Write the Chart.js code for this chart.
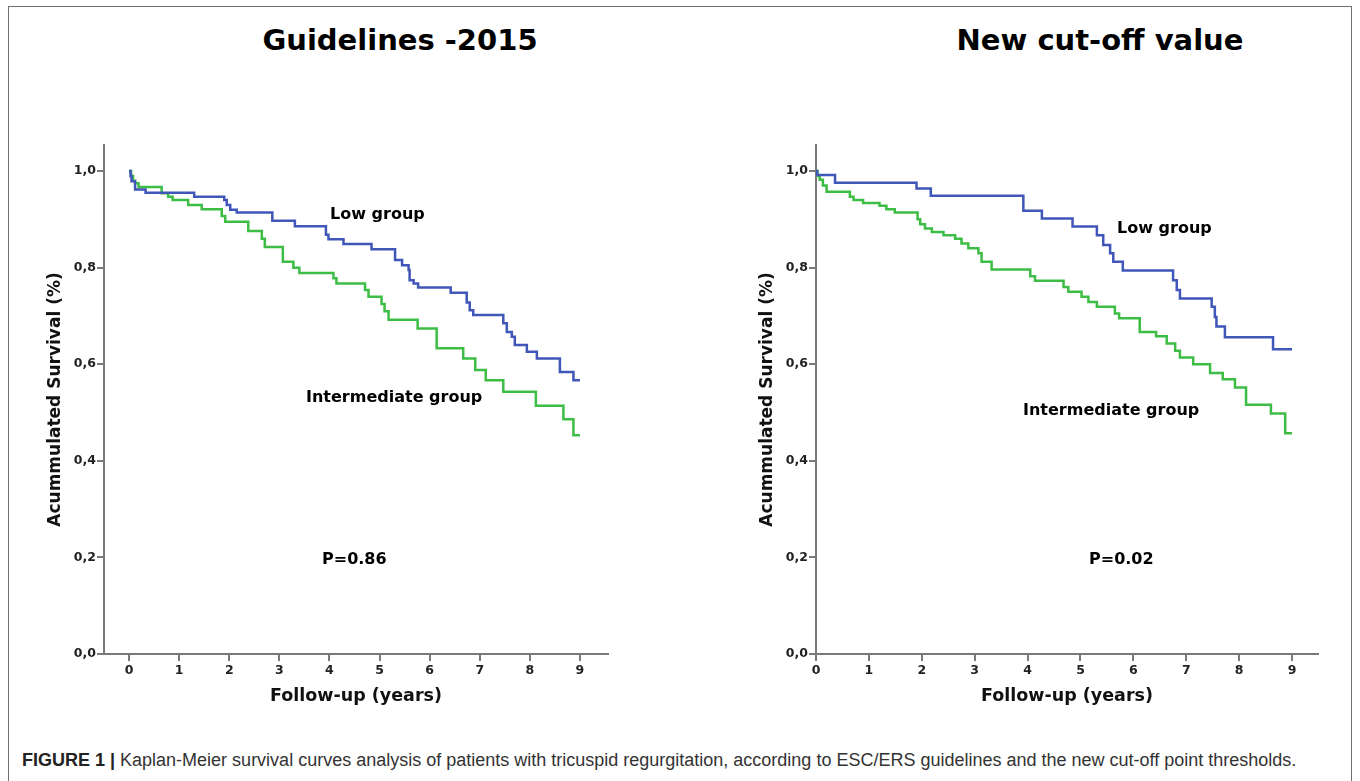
<!DOCTYPE html>
<html>
<head>
<meta charset="utf-8">
<script src="https://cdn.jsdelivr.net/npm/chart.js@4/dist/chart.umd.min.js"></script>
<style>
    body { margin: 0; background: #fff; width: 1360px; height: 781px; overflow: hidden; position: relative; }
    #frame { position: absolute; left: 8px; top: 6px; width: 1344px; height: 800px; border: 1.5px solid #6e6e6e; box-sizing: border-box; }
    canvas { position: absolute; }
    .title { position: absolute; top: 20px; width: 500px; margin-left: -250px; text-align: center; font: bold 29px "DejaVu Sans"; color: #000; line-height: 40px; }
    .lbl { position: absolute; font: bold 16px "DejaVu Sans"; color: #000; line-height: 20px; white-space: nowrap; }
    #caption { position: absolute; left: 22px; top: 749px; font: 18px "Liberation Sans"; color: #333; line-height: 22px; white-space: nowrap; }
    #caption b { color: #222; }
</style>
</head>
<body>
<div id="frame"></div>
<div class="title" style="left:400px">Guidelines -2015</div>
<div class="title" style="left:1100px">New cut-off value</div>

<canvas id="left-chart" width="620" height="710" style="left:20px;top:10px;width:620px;height:710px"></canvas>
<canvas id="right-chart" width="620" height="710" style="left:732px;top:10px;width:620px;height:710px"></canvas>

<div class="lbl" style="left:330px;top:204px">Low group</div>
<div class="lbl" style="left:306px;top:387px">Intermediate group</div>
<div class="lbl" style="left:322px;top:549px">P=0.86</div>
<div class="lbl" style="left:1117px;top:218px">Low group</div>
<div class="lbl" style="left:1023px;top:400px">Intermediate group</div>
<div class="lbl" style="left:1089px;top:549px">P=0.02</div>

<div id="caption"><b>FIGURE 1 |</b> Kaplan-Meier survival curves analysis of patients with tricuspid regurgitation, according to ESC/ERS guidelines and the new cut-off point thresholds.</div>

<script>
// tick labels
var yearTicks = [0, 1, 2, 3, 4, 5, 6, 7, 8, 9];
var survivalTicks = [0, 0.2, 0.4, 0.6, 0.8, 1.0];

// Guidelines -2015 : time (years) of each step and survival after it
var guideLowT = [0, 0.03, 0.05, 0.12, 0.33, 1.30, 1.90, 1.95, 2.02, 2.15, 2.86, 3.31, 3.93, 3.98, 4.28, 4.84, 5.31, 5.45, 5.58, 5.60, 5.68, 5.77, 6.42, 6.74, 6.80, 6.87, 7.47, 7.54, 7.64, 7.70, 7.94, 8.14, 8.60, 8.87, 9.00];
var guideLowS = [1.0, 0.99, 0.979, 0.962, 0.955, 0.947, 0.94, 0.93, 0.92, 0.914, 0.897, 0.886, 0.868, 0.859, 0.849, 0.838, 0.816, 0.805, 0.795, 0.774, 0.767, 0.759, 0.748, 0.728, 0.712, 0.702, 0.685, 0.667, 0.657, 0.640, 0.626, 0.612, 0.584, 0.567, 0.567];
var guideMidT = [0, 0.04, 0.08, 0.12, 0.19, 0.65, 0.78, 0.87, 1.18, 1.45, 1.85, 1.92, 2.38, 2.65, 2.71, 3.07, 3.28, 3.40, 4.08, 4.14, 4.71, 4.78, 5.04, 5.10, 5.18, 5.76, 6.14, 6.67, 6.91, 7.12, 7.47, 8.12, 8.67, 8.87, 9.00];
var guideMidS = [1.0, 0.99, 0.98, 0.975, 0.967, 0.954, 0.947, 0.94, 0.93, 0.921, 0.907, 0.895, 0.876, 0.86, 0.843, 0.812, 0.80, 0.789, 0.778, 0.767, 0.754, 0.740, 0.725, 0.71, 0.692, 0.674, 0.633, 0.612, 0.588, 0.567, 0.543, 0.514, 0.486, 0.453, 0.453];

// New cut-off value
var cutLowT = [0, 0.02, 0.36, 1.90, 2.17, 3.92, 4.27, 4.85, 5.31, 5.43, 5.56, 5.62, 5.80, 6.75, 6.82, 6.88, 7.48, 7.54, 7.57, 7.73, 8.64, 9.00];
var cutLowS = [1.0, 0.992, 0.976, 0.964, 0.949, 0.918, 0.902, 0.885, 0.867, 0.847, 0.830, 0.812, 0.794, 0.774, 0.754, 0.736, 0.719, 0.698, 0.678, 0.656, 0.631, 0.631];
var cutMidT = [0, 0.03, 0.07, 0.13, 0.20, 0.64, 0.71, 0.89, 1.20, 1.33, 1.49, 1.92, 1.97, 2.06, 2.19, 2.41, 2.63, 2.75, 2.88, 3.07, 3.13, 3.32, 4.05, 4.14, 4.68, 4.77, 5.02, 5.15, 5.31, 5.65, 5.73, 6.12, 6.43, 6.63, 6.79, 6.88, 7.13, 7.45, 7.69, 7.92, 8.13, 8.60, 8.87, 9.00];
var cutMidS = [1.0, 0.99, 0.982, 0.97, 0.957, 0.947, 0.94, 0.934, 0.928, 0.921, 0.914, 0.90, 0.89, 0.881, 0.874, 0.867, 0.86, 0.85, 0.84, 0.83, 0.812, 0.796, 0.782, 0.773, 0.760, 0.750, 0.740, 0.729, 0.719, 0.705, 0.695, 0.667, 0.658, 0.643, 0.628, 0.614, 0.600, 0.582, 0.569, 0.552, 0.516, 0.498, 0.457, 0.457];

var blue = '#4056b8';
var green = '#3dbd45';
var axisGrey = '#7a7a7a';

function toPoints(t, s) {
    var pts = [];
    for (var i = 0; i < t.length; i++) {
        pts.push({x: t[i], y: s[i]});
    }
    return pts;
}

function drawKM(id, lowT, lowS, midT, midS, xMin, xMax, padRight) {
    var ctx = document.getElementById(id).getContext("2d");
    return new Chart(ctx, {
        type: 'line',
        data: {
            datasets: [{
                label: 'Low group',
                data: toPoints(lowT, lowS),
                borderColor: blue,
                borderWidth: 2.5,
                stepped: true,
                pointRadius: 0,
                fill: false
            }, {
                label: 'Intermediate group',
                data: toPoints(midT, midS),
                borderColor: green,
                borderWidth: 2.5,
                stepped: true,
                pointRadius: 0,
                fill: false
            }]
        },
        options: {
            responsive: false,
            animation: false,
            layout: {padding: {top: 135, right: padRight, left: 0, bottom: 0}},
            plugins: {legend: {display: false}, tooltip: {enabled: false}},
            scales: {
                x: {
                    type: 'linear',
                    min: xMin,
                    max: xMax,
                    afterBuildTicks: function (scale) {
                        scale.ticks = yearTicks.map(function (v) { return {value: v}; });
                    },
                    afterFit: function (scale) { scale.height = 66; },
                    grid: {drawOnChartArea: false, drawTicks: true, tickLength: 7, color: axisGrey, lineWidth: 2},
                    border: {display: true, color: axisGrey, width: 2},
                    ticks: {
                        padding: 2,
                        color: '#222',
                        font: {family: 'DejaVu Sans', size: 12.5, weight: 'bold'},
                        maxRotation: 0
                    },
                    title: {
                        display: true,
                        text: 'Follow-up (years)',
                        color: '#111',
                        font: {family: 'DejaVu Sans', size: 17.5, weight: 'bold'},
                        padding: {top: 0, bottom: 13}
                    }
                },
                y: {
                    min: 0,
                    max: 1.054,
                    afterBuildTicks: function (scale) {
                        scale.ticks = survivalTicks.map(function (v) { return {value: v}; });
                    },
                    afterFit: function (scale) { scale.width = 84; },
                    grid: {drawOnChartArea: false, drawTicks: true, tickLength: 7, color: axisGrey, lineWidth: 2},
                    border: {display: true, color: axisGrey, width: 2},
                    ticks: {
                        padding: 1,
                        color: '#222',
                        font: {family: 'DejaVu Sans', size: 12.5, weight: 'bold'},
                        callback: function (v) { return v.toFixed(1).replace('.', ','); }
                    },
                    title: {
                        display: true,
                        text: 'Acummulated Survival (%)',
                        color: '#111',
                        font: {family: 'DejaVu Sans', size: 17, weight: 'bold'},
                        padding: {top: 25, bottom: 0}
                    }
                }
            }
        }
    });
}

drawKM("left-chart", guideLowT, guideLowS, guideMidT, guideMidS, -0.5, 9.56, 32);
drawKM("right-chart", cutLowT, cutLowS, cutMidT, cutMidS, 0, 9.49, 34);
</script>
</body>
</html>
